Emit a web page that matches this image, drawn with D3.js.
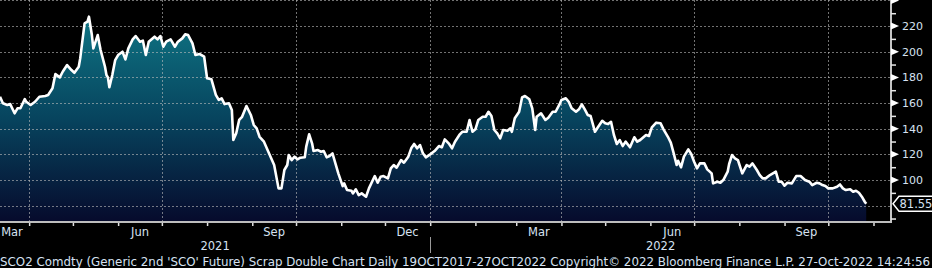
<!DOCTYPE html>
<html>
<head>
<meta charset="utf-8">
<script src="https://cdn.jsdelivr.net/npm/d3@7"></script>
<style>
  html, body { margin: 0; padding: 0; background: #000; }
  svg { display: block; }
</style>
</head>
<body>
<svg id="chart" width="932" height="268"></svg>
<script>
// ---------- DATA ----------
const dates = [
  "2021-03-12","2021-03-14","2021-03-17","2021-03-19","2021-03-22","2021-03-24","2021-03-26","2021-03-29","2021-03-30",
  "2021-04-02","2021-04-05","2021-04-08","2021-04-12","2021-04-14","2021-04-17","2021-04-19","2021-04-22","2021-04-24","2021-04-27","2021-04-30",
  "2021-05-02","2021-05-05","2021-05-06","2021-05-09","2021-05-11","2021-05-12","2021-05-14","2021-05-15","2021-05-18","2021-05-20","2021-05-23","2021-05-24","2021-05-25","2021-05-26","2021-05-28","2021-05-30",
  "2021-06-01","2021-06-04","2021-06-06","2021-06-08","2021-06-11","2021-06-13","2021-06-16","2021-06-18","2021-06-20","2021-06-22","2021-06-26","2021-06-28","2021-06-30",
  "2021-07-02","2021-07-04","2021-07-07","2021-07-10","2021-07-12","2021-07-15","2021-07-17","2021-07-19","2021-07-22","2021-07-24","2021-07-27","2021-07-30",
  "2021-08-01","2021-08-04","2021-08-07","2021-08-09","2021-08-11","2021-08-13","2021-08-16","2021-08-18","2021-08-19","2021-08-21","2021-08-23","2021-08-25","2021-08-28","2021-08-31",
  "2021-09-02","2021-09-04","2021-09-06","2021-09-09","2021-09-12","2021-09-16","2021-09-19","2021-09-21","2021-09-23","2021-09-25","2021-09-26","2021-09-28","2021-09-30",
  "2021-10-02","2021-10-04","2021-10-07","2021-10-08","2021-10-10","2021-10-12","2021-10-13","2021-10-16","2021-10-18","2021-10-20","2021-10-22","2021-10-24","2021-10-26","2021-10-27","2021-10-30",
  "2021-11-02","2021-11-03","2021-11-05","2021-11-08","2021-11-09","2021-11-11","2021-11-13","2021-11-15","2021-11-18","2021-11-20","2021-11-24","2021-11-26","2021-11-28","2021-11-30",
  "2021-12-03","2021-12-05","2021-12-07","2021-12-09","2021-12-12","2021-12-14","2021-12-17","2021-12-19","2021-12-21","2021-12-23","2021-12-25","2021-12-27","2021-12-29",
  "2022-01-01","2022-01-04","2022-01-07","2022-01-09","2022-01-11","2022-01-14","2022-01-16","2022-01-18","2022-01-21","2022-01-23","2022-01-26","2022-01-28","2022-01-30",
  "2022-02-01","2022-02-03","2022-02-06","2022-02-08","2022-02-10","2022-02-12","2022-02-14","2022-02-16","2022-02-18","2022-02-20","2022-02-23","2022-02-25","2022-02-26","2022-02-28",
  "2022-03-03","2022-03-05","2022-03-07","2022-03-10","2022-03-12","2022-03-14","2022-03-15","2022-03-18","2022-03-21","2022-03-23","2022-03-26","2022-03-28","2022-03-31",
  "2022-04-01","2022-04-04","2022-04-06","2022-04-08","2022-04-11","2022-04-13","2022-04-15","2022-04-17","2022-04-19","2022-04-21","2022-04-24","2022-04-26","2022-04-29",
  "2022-05-01","2022-05-03","2022-05-05","2022-05-07","2022-05-09","2022-05-11","2022-05-13","2022-05-15","2022-05-18","2022-05-21","2022-05-23","2022-05-25","2022-05-29","2022-05-31",
  "2022-06-02","2022-06-05","2022-06-08","2022-06-10","2022-06-13","2022-06-15","2022-06-17","2022-06-19","2022-06-20","2022-06-22","2022-06-24","2022-06-27","2022-06-29",
  "2022-07-01","2022-07-03","2022-07-05","2022-07-08","2022-07-10","2022-07-13","2022-07-14","2022-07-17","2022-07-19","2022-07-21","2022-07-24","2022-07-25","2022-07-27","2022-07-29","2022-07-31",
  "2022-08-03","2022-08-06","2022-08-08","2022-08-10","2022-08-13","2022-08-15","2022-08-17","2022-08-19","2022-08-22","2022-08-24","2022-08-26","2022-08-28","2022-08-30",
  "2022-09-01","2022-09-03","2022-09-06","2022-09-09","2022-09-12","2022-09-15","2022-09-18","2022-09-20","2022-09-23","2022-09-25","2022-09-27","2022-09-29",
  "2022-10-01","2022-10-04","2022-10-07","2022-10-09","2022-10-11","2022-10-13","2022-10-16","2022-10-18","2022-10-20","2022-10-22","2022-10-24","2022-10-26","2022-10-27"
];
const values = [
  164.9,159.8,158.5,159.2,152,155.9,155.9,163.1,161,
  158.5,161,164.9,165.5,166.3,171.5,182.6,180,184.4,189.6,185.7,
  183.6,188.3,194.8,222.1,223.4,227.3,213,202.6,213,201.3,188.3,181.8,180,172.3,181.8,193.5,
  197.4,200,194,202.6,209.6,212.2,207.8,208.6,197.4,207.8,211.7,209.6,212.2,
  203.9,207.8,209.6,203.9,207.8,210.4,213.5,213,206.5,197.4,198.2,196.1,
  179.3,178.5,166.3,162.4,163.7,159.2,159.8,154.6,131.2,136.4,146.8,149.3,157.7,150.7,
  142.9,140.3,133.7,129.9,122.1,111.7,93.5,93.5,107.8,111.7,119.5,115.6,118.2,
  116.1,117.4,117.7,126,135.6,128.6,122.6,123.4,122.1,122.6,117.7,118.7,120.8,116.9,105.2,
  95.3,97.4,92.2,91.7,89.6,92.8,88.3,89.6,87,93.5,103.1,97.9,102.6,103.1,
  101.3,109.1,111.7,109.6,115.6,113.5,118.2,124.7,128.1,124.7,127.3,120.8,117.7,
  120,122.6,126.5,125.5,131.7,128.1,124.7,129.9,135.1,137.6,137.6,146.8,137.6,
  139.5,146.8,149.3,149.3,153.2,149.9,139,136.4,132.5,139,138.4,140.3,137.6,148.1,
  153.2,164.4,165.5,162.9,155.9,139,149.3,152,146.8,148.6,153.2,153.2,159.8,
  162.4,163.7,161,155.9,153.2,155.1,159,155,150.7,149.9,137.6,141.1,146.2,
  144.2,143.6,145.4,135.1,128.1,131.2,126.5,129.9,125.5,133.3,129.9,131.2,135.1,134.3,
  141.1,144.7,144.2,139.5,133.7,129.1,120.8,111.7,115,109.9,118.2,123.9,120.3,
  114.3,109.1,113,113,108.3,105.2,97.4,98.7,97.9,100,106.5,112.5,119.5,116.9,115.6,
  105.2,111.7,110.4,113,107.8,103.9,101.3,101.3,103.9,105.2,106.5,98.7,98.7,
  95.6,97.9,97.4,103.1,103.1,100,98.7,96.1,97.9,97.4,96.1,95.3,
  93.5,93.5,94.8,96.6,93.5,92.2,92.8,90.9,91.7,90.1,87,83.1,81.55
];
const yLabelTicks = [100, 120, 140, 160, 180, 200, 220];
const yArrowTicks = [100, 120, 140, 160, 180, 200, 220, 240];
const yMinorTicks = [70, 90, 110, 130, 150, 170, 190, 210, 230];
const yGridTicks = [80, 100, 120, 140, 160, 180, 200, 220, 240];
const monthLabels = ["Mar", "Jun", "Sep", "Dec", "Mar", "Jun", "Sep"];
const monthLabelStarts = ["2021-03-01","2021-06-01","2021-09-01","2021-12-01","2022-03-01","2022-06-01","2022-09-01"];
const yearLabels = ["2021", "2022"];
const lastValueText = "81.55";
const footerText = "SCO2 Comdty (Generic 2nd 'SCO' Future) Scrap Double Chart  Daily 19OCT2017-27OCT2022 Copyright\u00A9 2022 Bloomberg Finance L.P. 27-Oct-2022 14:24:56";

// ---------- CHART ----------
const parse = d3.timeParse("%Y-%m-%d");
const data = dates.map((d, i) => ({ date: parse(d), value: values[i] }));

const svg = d3.select("#chart");
const plotRight = 891, plotBottom = 222;
const labelColor = "#d6e2f2";
const fontFam = "'DejaVu Sans', Verdana, sans-serif";

const x = d3.scaleTime()
  .domain([new Date(2021, 2, 12), new Date(2022, 10, 13)])
  .range([0, plotRight]);
const y = d3.scaleLinear()
  .domain([67.3, 240.3])
  .range([plotBottom, 0]);

svg.append("rect").attr("width", 932).attr("height", 268).attr("fill", "#000");

const defs = svg.append("defs");
const grad = defs.append("linearGradient")
  .attr("id", "areaGrad").attr("gradientUnits", "userSpaceOnUse")
  .attr("x1", 0).attr("x2", 0).attr("y1", 15).attr("y2", plotBottom);
grad.append("stop").attr("offset", 0).attr("stop-color", "#0f7584");
grad.append("stop").attr("offset", 0.5).attr("stop-color", "#07445e");
grad.append("stop").attr("offset", 1).attr("stop-color", "#060a2c");
defs.append("clipPath").attr("id", "plotClip")
  .append("rect").attr("x", 0).attr("y", 0).attr("width", plotRight).attr("height", plotBottom);

const plot = svg.append("g").attr("clip-path", "url(#plotClip)");

const area = d3.area()
  .x(d => x(d.date)).y0(plotBottom).y1(d => y(d.value));
plot.append("path").datum(data).attr("d", area).attr("fill", "url(#areaGrad)");

// grid
const gridColor = "rgba(190,190,190,0.6)";
plot.append("g").selectAll("line").data(yGridTicks).join("line")
  .attr("x1", 0).attr("x2", plotRight)
  .attr("y1", d => Math.round(y(d)) + 0.5).attr("y2", d => Math.round(y(d)) + 0.5)
  .attr("stroke", gridColor).attr("stroke-dasharray", "2,2");
const quarterStarts = d3.timeMonth.every(3).range(new Date(2021, 0, 1), new Date(2022, 11, 1))
  .filter(d => x(d) > 0 && x(d) < plotRight);
plot.append("g").selectAll("line").data(quarterStarts).join("line")
  .attr("x1", d => Math.round(x(d)) + 0.5).attr("x2", d => Math.round(x(d)) + 0.5)
  .attr("y1", 0).attr("y2", plotBottom)
  .attr("stroke", gridColor).attr("stroke-dasharray", "2,2");

const line = d3.line().x(d => x(d.date)).y(d => y(d.value));
plot.append("path").datum(data).attr("d", line)
  .attr("fill", "none").attr("stroke", "#fff").attr("stroke-width", 2.6)
  .attr("stroke-linejoin", "round");

// x axis
const xAxis = d3.axisBottom(x)
  .tickValues(d3.timeMonth.range(new Date(2021, 3, 1), new Date(2022, 10, 14)))
  .tickSize(4).tickFormat("");
const gx = svg.append("g").attr("transform", `translate(0,${plotBottom})`).call(xAxis);
gx.select(".domain").remove();
gx.selectAll(".tick line").attr("stroke", "#e0e0e0").attr("stroke-width", 1.5);
svg.append("line").attr("x1", 0).attr("x2", plotRight + 1)
  .attr("y1", plotBottom).attr("y2", plotBottom)
  .attr("stroke", "#bdbdbd").attr("stroke-width", 2);

svg.append("g").selectAll("text").data(monthLabels).join("text")
  .attr("x", (d, i) => {
    const s = parse(monthLabelStarts[i]);
    const e = d3.timeMonth.offset(s, 1);
    return Math.max(12, (x(s) + x(e)) / 2);
  })
  .attr("y", 236).attr("text-anchor", "middle")
  .attr("font-family", fontFam).attr("font-size", 11.5).attr("fill", labelColor)
  .text(d => d);

const yearBreak = x(new Date(2022, 0, 1));
const yearCenters = [yearBreak / 2, (yearBreak + plotRight) / 2];
svg.append("g").selectAll("text").data(yearLabels).join("text")
  .attr("x", (d, i) => yearCenters[i]).attr("y", 250).attr("text-anchor", "middle")
  .attr("font-family", fontFam).attr("font-size", 11.5).attr("fill", labelColor)
  .text(d => d);
svg.append("line").attr("x1", Math.round(yearBreak) + 0.5).attr("x2", Math.round(yearBreak) + 0.5)
  .attr("y1", 237).attr("y2", 253).attr("stroke", "#9a9a9a").attr("stroke-width", 1);

// y axis
svg.append("line").attr("x1", plotRight).attr("x2", plotRight)
  .attr("y1", 0).attr("y2", plotBottom + 1)
  .attr("stroke", "#c4c4c4").attr("stroke-width", 2);
const yMinor = d3.axisRight(y).tickValues(yMinorTicks).tickSize(5).tickFormat("");
const gym = svg.append("g").attr("transform", `translate(${plotRight},0)`).call(yMinor);
gym.select(".domain").remove();
gym.selectAll(".tick line").attr("stroke", "#e6e6e6").attr("stroke-width", 1.5);

svg.append("g").selectAll("path").data(yArrowTicks).join("path")
  .attr("d", d => {
    const yy = y(d);
    return `M${plotRight},${yy - 3.5}L${plotRight + 8},${yy}L${plotRight},${yy + 3.5}Z`;
  })
  .attr("fill", "#fff");

const yAxis = d3.axisRight(y).tickValues(yLabelTicks).tickSize(0).tickPadding(11);
const gy = svg.append("g").attr("transform", `translate(${plotRight},0)`).call(yAxis);
gy.select(".domain").remove();
gy.selectAll(".tick text").attr("fill", labelColor)
  .attr("font-family", fontFam).attr("font-size", 11);

// last value box
const last = data[data.length - 1];
const ly = y(last.value);
svg.append("path")
  .attr("d", `M${plotRight + 2},${ly}L${plotRight + 8},${ly - 7.5}L934,${ly - 7.5}L934,${ly + 7.5}L${plotRight + 8},${ly + 7.5}Z`)
  .attr("fill", "#000").attr("stroke", "#fff").attr("stroke-width", 1.5);
svg.append("text").attr("x", plotRight + 8.5).attr("y", ly + 4.3)
  .attr("font-family", fontFam).attr("font-size", 11.5).attr("fill", labelColor)
  .text(lastValueText);

// footer
svg.append("text").attr("x", 0).attr("y", 266)
  .attr("font-family", fontFam).attr("font-size", 11.5).attr("fill", labelColor)
  .attr("textLength", 930).attr("lengthAdjust", "spacingAndGlyphs")
  .text(footerText);
</script>
</body>
</html>
